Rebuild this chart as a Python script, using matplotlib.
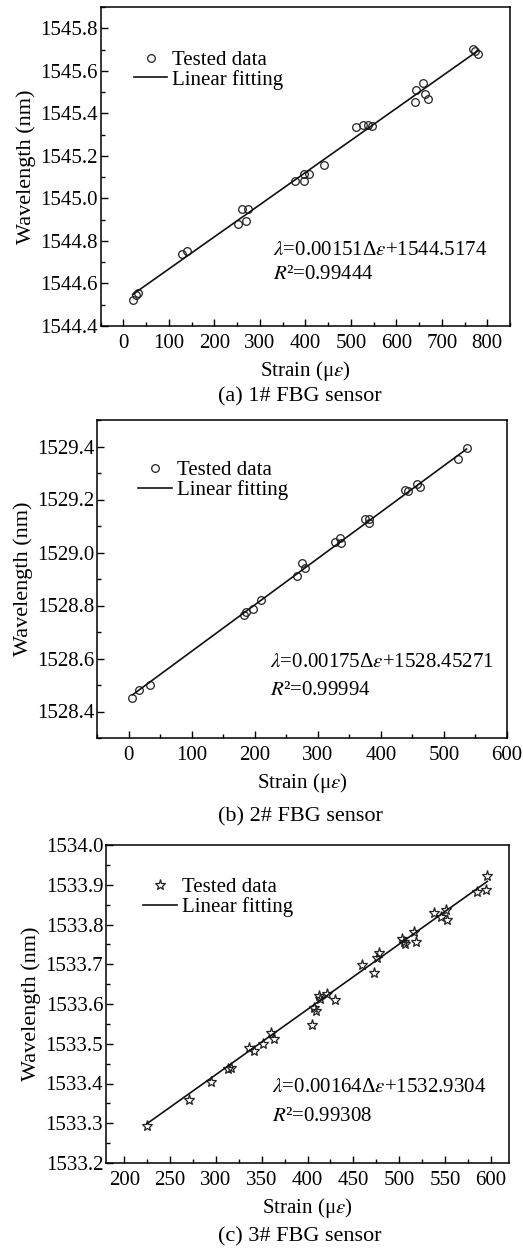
import matplotlib
matplotlib.use("Agg")
import matplotlib.pyplot as plt
from matplotlib.ticker import MultipleLocator, FormatStrFormatter
import numpy as np

plt.rcParams['font.family'] = ['Liberation Serif', 'DejaVu Serif']
plt.rcParams['mathtext.fontset'] = 'stix'

# (a) 1# FBG sensor
strain_a = [20.5, 27.8, 31.5, 128.8, 139, 253, 269, 260.6, 273, 377.8, 397.5, 397.5,
            408.5, 441.4, 512.4, 527, 538.8, 547.6, 641.3, 642.8, 658.9, 663, 670.6,
            769.4, 773, 779.6]
wave_a = [1544.523, 1544.546, 1544.554, 1544.740, 1544.755, 1544.881, 1544.895, 1544.952,
          1544.952, 1545.084, 1545.084, 1545.115, 1545.115, 1545.156, 1545.335, 1545.343,
          1545.343, 1545.340, 1545.453, 1545.512, 1545.541, 1545.489, 1545.468,
          1545.701, 1545.693, 1545.681]
fit_a = (0.00151, 1544.5174)

# (b) 2# FBG sensor
strain_b = [5.8, 16.3, 33.2, 183.2, 185.8, 196.3, 209.5, 266.3, 275.3, 279.5, 326.8,
            335.8, 337.4, 375.3, 381.6, 381.6, 438.4, 443.7, 456.8, 462.1, 522.6, 535.8]
wave_b = [1528.452, 1528.482, 1528.499, 1528.765, 1528.774, 1528.786, 1528.819, 1528.910,
          1528.961, 1528.942, 1529.039, 1529.056, 1529.034, 1529.125, 1529.113, 1529.128,
          1529.235, 1529.232, 1529.258, 1529.246, 1529.351, 1529.394]
fit_b = (0.00175, 1528.45271)

# (c) 3# FBG sensor
strain_c = [224.7, 270.9, 294.5, 312.7, 316.4, 336.4, 341.8, 350.9, 360, 363.6, 404.4,
            407.3, 409, 412.7, 413.8, 421.8, 430.2, 459.3, 472.7, 476.4, 478.2, 503.6,
            505.5, 506.2, 516.4, 518.2, 538.2, 545.5, 550.9, 552.7, 584.7, 594.5, 596.4]
wave_c = [1533.294, 1533.358, 1533.403, 1533.436, 1533.440, 1533.489, 1533.483, 1533.500,
          1533.527, 1533.513, 1533.548, 1533.590, 1533.583, 1533.620, 1533.612, 1533.625,
          1533.611, 1533.698, 1533.678, 1533.715, 1533.728, 1533.763, 1533.757, 1533.751,
          1533.782, 1533.757, 1533.828, 1533.820, 1533.837, 1533.812, 1533.883, 1533.887,
          1533.922]
fit_c = (0.00164, 1532.9304)

W, H = 523, 1258

panels = [
    dict(x=strain_a, y=wave_a, fit=fit_a, marker='o', ms=5.5,
         px=(100.7, 7, 510, 326), xlim=(-50, 850), ylim=(1544.4, 1545.9),
         xmaj=100, xmin=50, ymaj=0.2, ymin=0.1,
         leg=(0.081, 0.8025), eqpos=(0.421, 0.238, 0.16),
         eq=r'$\lambda$=0.00151Δ$\varepsilon$+1544.5174', r2=r'$R$²=0.99444',
         cap='(a) 1# FBG sensor', capy=397),
    dict(x=strain_b, y=wave_b, fit=fit_b, marker='o', ms=5.5,
         px=(97.3, 420, 507, 738), xlim=(-50, 600), ylim=(1528.3, 1529.5),
         xmaj=100, xmin=50, ymaj=0.2, ymin=0.1,
         leg=(0.10, 0.81), eqpos=(0.4215, 0.236, 0.149),
         eq=r'$\lambda$=0.00175Δ$\varepsilon$+1528.45271', r2=r'$R$²=0.99994',
         cap='(b) 2# FBG sensor', capy=817),
    dict(x=strain_c, y=wave_c, fit=fit_c, marker='*', ms=8,
         px=(106, 845, 509, 1163), xlim=(180, 620), ylim=(1533.2, 1534.0),
         xmaj=50, xmin=25, ymaj=0.1, ymin=0.05,
         leg=(0.093, 0.836), eqpos=(0.411, 0.236, 0.146),
         eq=r'$\lambda$=0.00164Δ$\varepsilon$+1532.9304', r2=r'$R$²=0.99308',
         cap='(c) 3# FBG sensor', capy=1237),
]

fig = plt.figure(figsize=(W / 100, H / 100), dpi=100)

for p in panels:
    l, t, r, b_ = p['px']
    ax = fig.add_axes([l / W, 1 - b_ / H, (r - l) / W, (b_ - t) / H])
    x = np.array(p['x'])
    y = np.array(p['y'])
    k, b = p['fit']
    ax.plot(x, y, linestyle='none', marker=p['marker'], ms=p['ms'], mfc='none',
            mec='#222222', mew=0.9, label='Tested data')
    xf = np.array([x.min(), x.max()])
    ax.plot(xf, k * xf + b, color='#111111', lw=1.2, label='Linear fitting')

    ax.set_xlim(*p['xlim'])
    ax.set_ylim(*p['ylim'])
    ax.xaxis.set_major_locator(MultipleLocator(p['xmaj']))
    ax.xaxis.set_minor_locator(MultipleLocator(p['xmin']))
    ax.yaxis.set_major_locator(MultipleLocator(p['ymaj']))
    ax.yaxis.set_minor_locator(MultipleLocator(p['ymin']))
    ax.yaxis.set_major_formatter(FormatStrFormatter('%.1f'))
    ax.tick_params(which='major', direction='in', length=5, width=1, labelsize=15,
                   top=False, right=False)
    ax.tick_params(axis='x', pad=6)
    ax.tick_params(axis='y', pad=2)
    ax.tick_params(which='minor', direction='in', length=3, width=1, top=False, right=False)
    for s in ax.spines.values():
        s.set_linewidth(1.1)

    ax.set_xlabel('Strain (μ$\\varepsilon$)', fontsize=15, labelpad=4)
    ax.set_ylabel('Wavelength (nm)', fontsize=16, labelpad=3)

    ax.legend(loc='center left', bbox_to_anchor=p['leg'], frameon=False, fontsize=15,
              handlelength=1.6, handletextpad=0.25, labelspacing=0.0,
              borderaxespad=0, borderpad=0)

    ex, ey1, ey2 = p['eqpos']
    ax.text(ex, ey1, p['eq'], transform=ax.transAxes, fontsize=15, va='center')
    ax.text(ex, ey2, p['r2'], transform=ax.transAxes, fontsize=15, va='center')

    fig.text(300 / W, 1 - p['capy'] / H, p['cap'], ha='center', va='center', fontsize=16)

fig.savefig('out.png', dpi=100)
